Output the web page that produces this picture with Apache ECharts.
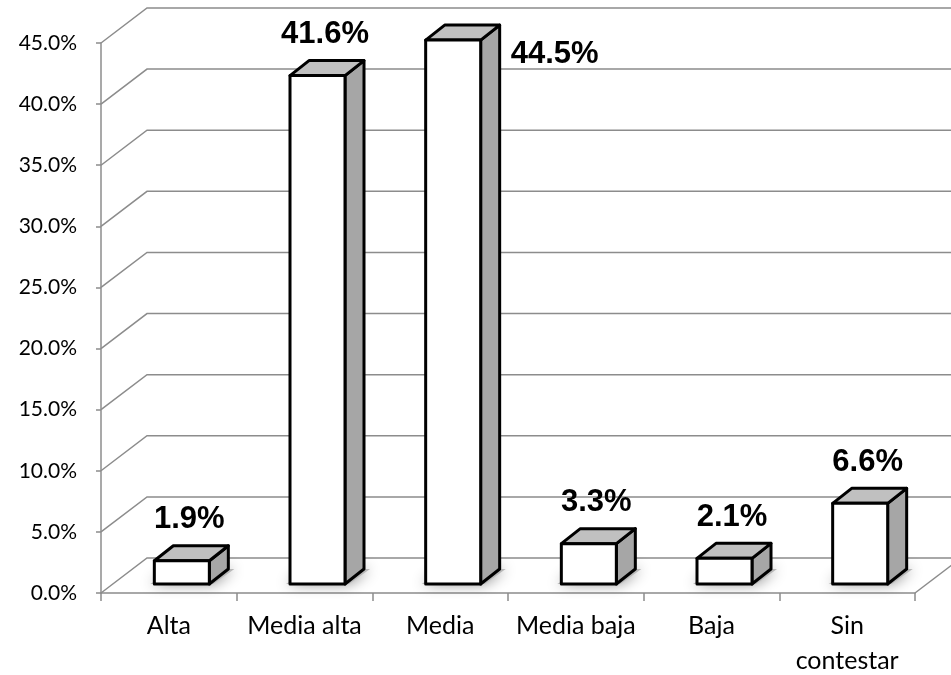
<!DOCTYPE html>
<html>
<head>
<meta charset="utf-8">
<script src="https://cdn.jsdelivr.net/npm/echarts@6/dist/echarts.min.js"></script>
<style>
  html, body { margin: 0; padding: 0; background: #ffffff; }
  #chart { width: 951px; height: 675px; }
</style>
</head>
<body>
<div id="chart"></div>
<script>
// Survey answers: share of respondents per level
const categories = ['Alta', 'Media alta', 'Media', 'Media baja', 'Baja', 'Sin\ncontestar'];
const shares = [1.9, 41.6, 44.5, 3.3, 2.1, 6.6];
const yTicks = [0, 5, 10, 15, 20, 25, 30, 35, 40, 45];

// Oblique "3D" projection settings
const WALL = { dx: 46, dy: -35 };       // depth of floor and side wall
const BAR_POS = { dx: 13, dy: -9 };     // front face of a bar inside the floor
const BAR_DEPTH = { dx: 19, dy: -15 };  // depth of each box
const BAR_WIDTH = 55;
const GRID_COLOR = '#8c8c8c';
const LABEL_FONT = 'bold 31px Arial, "Liberation Sans", sans-serif';

const chart = echarts.init(document.getElementById('chart'), null, { renderer: 'canvas' });

// Side wall diagonals and back wall lines for every value tick
function renderWall(params, api) {
  const v = api.value(1);
  const cs = params.coordSys;
  const y = api.coord([0, v])[1];
  const left = cs.x;
  const right = cs.x + cs.width;
  const children = [{
    type: 'polyline',
    shape: { points: [[left, y], [left + WALL.dx, y + WALL.dy], [right + WALL.dx, y + WALL.dy]] },
    style: { stroke: GRID_COLOR, lineWidth: 1.5, fill: null }
  }];
  if (v === 0) {
    children.push({
      type: 'line',
      shape: { x1: right, y1: y, x2: right + WALL.dx, y2: y + WALL.dy },
      style: { stroke: GRID_COLOR, lineWidth: 1.5 }
    });
  }
  return { type: 'group', children: children };
}

// One box per category, with its value label
function renderBox(params, api) {
  const i = api.value(0);
  const v = api.value(1);
  const base = api.coord([i, 0]);
  const top = api.coord([i, v]);
  const x0 = base[0] - BAR_WIDTH / 2 + BAR_POS.dx;
  const x1 = x0 + BAR_WIDTH;
  const yb = base[1] + BAR_POS.dy;
  const yt = top[1] + BAR_POS.dy;
  const ddx = BAR_DEPTH.dx, ddy = BAR_DEPTH.dy;
  const edge = { stroke: '#000', lineWidth: 3, lineJoin: 'round' };

  const text = v.toFixed(1) + '%';
  const topBack = yt + ddy;
  let label;
  if (topBack - 26 - 16 > 0) {
    label = {
      type: 'text', x: (x0 + x1 + ddx) / 2 - 2, y: topBack - 26,
      style: { text: text, font: LABEL_FONT, fill: '#000', align: 'center', verticalAlign: 'middle' }
    };
  } else {
    // no room above the plot: put the value beside the box
    label = {
      type: 'text', x: x1 + ddx + 11, y: yt + 14,
      style: { text: text, font: LABEL_FONT, fill: '#000', align: 'left', verticalAlign: 'middle' }
    };
  }

  return {
    type: 'group',
    children: [
      {
        type: 'polygon',
        shape: { points: [[x0 - 4, yb], [x1 + 4, yb], [x1 + ddx + 6, yb + ddy], [x0 + ddx, yb + ddy]] },
        style: { fill: '#b8b8b8', shadowBlur: 14, shadowColor: 'rgba(0,0,0,0.45)' }
      },
      {
        type: 'polygon',
        shape: { points: [[x1, yt], [x1 + ddx, yt + ddy], [x1 + ddx, yb + ddy], [x1, yb]] },
        style: Object.assign({ fill: '#a6a6a6' }, edge)
      },
      {
        type: 'polygon',
        shape: { points: [[x0, yt], [x1, yt], [x1 + ddx, yt + ddy], [x0 + ddx, yt + ddy]] },
        style: Object.assign({ fill: '#c0c0c0' }, edge)
      },
      {
        type: 'rect',
        shape: { x: x0, y: yt, width: BAR_WIDTH, height: yb - yt },
        style: Object.assign({ fill: '#ffffff' }, edge)
      },
      label
    ]
  };
}

chart.setOption({
  backgroundColor: '#ffffff',
  animation: false,
  grid: { left: 101, right: 36, top: 43, bottom: 82, containLabel: false, outerBoundsMode: 'none' },
  xAxis: {
    type: 'category',
    data: categories,
    boundaryGap: true,
    axisLine: { show: true, lineStyle: { color: GRID_COLOR, width: 1.5 } },
    axisTick: { show: true, length: 8, alignWithLabel: false, lineStyle: { color: GRID_COLOR, width: 1.5 } },
    axisLabel: {
      color: '#000', fontFamily: 'Lato', fontSize: 25, lineHeight: 35, margin: 15, interval: 0
    },
    splitLine: { show: false }
  },
  yAxis: {
    type: 'value',
    min: 0, max: 45, interval: 5,
    axisLine: { show: true, lineStyle: { color: GRID_COLOR, width: 1.5 } },
    axisTick: { show: true, length: 5, inside: false, lineStyle: { color: GRID_COLOR, width: 1.5 } },
    axisLabel: {
      color: '#000', fontFamily: 'Lato', fontSize: 21, margin: 24,
      formatter: function (v) { return v.toFixed(1) + '%'; }
    },
    splitLine: { show: false }
  },
  series: [
    {
      type: 'custom',
      name: 'walls',
      renderItem: renderWall,
      data: yTicks.map(function (v) { return [0, v]; }),
      clip: false,
      silent: true,
      z: 1
    },
    {
      type: 'custom',
      name: 'shares',
      renderItem: renderBox,
      data: shares.map(function (v, i) { return [i, v]; }),
      clip: false,
      z: 3
    }
  ]
});
</script>
</body>
</html>
